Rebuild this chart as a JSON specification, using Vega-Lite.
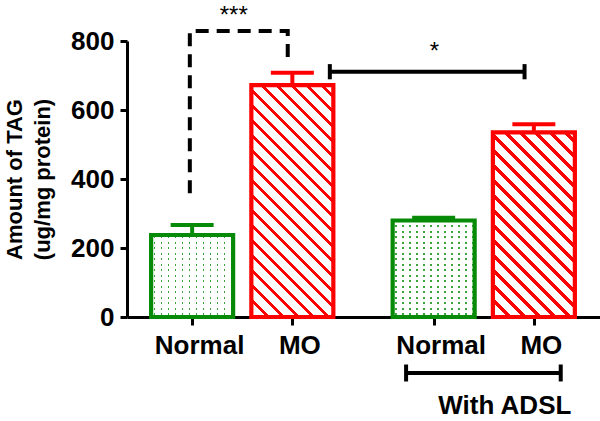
{
  "$schema": "https://vega.github.io/schema/vega-lite/v6.json",
  "width": 473,
  "height": 276,
  "autosize": {"type": "none"},
  "padding": {"left": 127, "top": 41, "right": 0, "bottom": 104},
  "background": "white",
  "config": {"view": {"stroke": null}, "font": "Liberation Sans"},
  "datasets": {
    "bars": [
      {"pos": 1, "cond": "Normal", "value": 237.7, "err": 266.7},
      {"pos": 2, "cond": "MO", "value": 672, "err": 708},
      {"pos": 3.41, "cond": "Normal", "value": 279.7, "err": 288},
      {"pos": 4.41, "cond": "MO", "value": 535, "err": 559}
    ],
    "dashed": [
      {"i": 0, "pos": 0.977, "value": 359},
      {"i": 1, "pos": 0.977, "value": 829},
      {"i": 2, "pos": 1.954, "value": 829},
      {"i": 3, "pos": 1.954, "value": 739}
    ],
    "segments": [
      {"pos": 2.374, "pos2": 4.317, "value": 711, "value2": 711},
      {"pos": 2.374, "pos2": 2.374, "value": 689, "value2": 733},
      {"pos": 4.317, "pos2": 4.317, "value": 689, "value2": 733},
      {"pos": 3.135, "pos2": 4.678, "value": -162, "value2": -162},
      {"pos": 3.135, "pos2": 3.135, "value": -137.7, "value2": -186.9},
      {"pos": 4.678, "pos2": 4.678, "value": -137.7, "value2": -186.9}
    ],
    "labels": [
      {"pos": 1.415, "value": 852, "label": "***", "kind": "star"},
      {"pos": 3.417, "value": 747, "label": "*", "kind": "star"},
      {"pos": 4.12, "value": -281, "label": "With ADSL", "kind": "group"}
    ]
  },
  "layer": [
    {
      "data": {"name": "bars"},
      "mark": {"type": "rule", "strokeWidth": 4},
      "encoding": {
        "x": {
          "field": "pos", "type": "quantitative",
          "scale": {"domain": [0.4, 5.02], "nice": false, "zero": false},
          "axis": {
            "values": [1, 2, 3.41, 4.41],
            "labelExpr": "(datum.value < 1.5 || (datum.value > 3 && datum.value < 4)) ? 'Normal' : 'MO'",
            "title": null, "grid": false,
            "domainColor": "black", "domainWidth": 3,
            "tickColor": "black", "tickWidth": 3, "tickSize": 8,
            "labelFont": "Liberation Sans", "labelFontSize": 26, "labelFontWeight": "bold",
            "labelColor": "black", "labelPadding": 7, "labelOffset": 7,
            "labelFlush": false, "labelOverlap": false
          }
        },
        "y": {
          "field": "value", "type": "quantitative",
          "scale": {"domain": [0, 800], "nice": false},
          "axis": {
            "values": [0, 200, 400, 600, 800],
            "title": ["Amount of TAG", "(ug/mg protein)"],
            "grid": false,
            "domainColor": "black", "domainWidth": 3,
            "tickColor": "black", "tickWidth": 3, "tickSize": 7,
            "labelFont": "Liberation Sans", "labelFontSize": 26, "labelFontWeight": "bold",
            "labelColor": "black", "labelPadding": 6, "labelFlush": false,
            "titleFont": "Liberation Sans", "titleFontSize": 22, "titleFontWeight": "bold",
            "titleColor": "black", "titleLineHeight": 28,
            "titleX": -106, "titleY": 138, "titleAngle": -90,
            "titleAlign": "center", "titleBaseline": "alphabetic"
          }
        },
        "y2": {"field": "err"},
        "stroke": {"field": "cond", "type": "nominal", "scale": {"domain": ["Normal", "MO"], "range": ["#078a07", "#ff0000"]}, "legend": null}
      }
    },
    {
      "data": {"name": "bars"},
      "mark": {"type": "tick", "orient": "horizontal", "size": 43, "thickness": 4, "opacity": 1},
      "encoding": {
        "x": {"field": "pos", "type": "quantitative", "scale": {"domain": [0.4, 5.02], "nice": false, "zero": false}},
        "y": {"field": "err", "type": "quantitative", "scale": {"domain": [0, 800], "nice": false}},
        "color": {"field": "cond", "type": "nominal", "scale": {"domain": ["Normal", "MO"], "range": ["#078a07", "#ff0000"]}, "legend": null}
      }
    },
    {
      "data": {"name": "bars"},
      "transform": [{"filter": "datum.cond == 'Normal'"}],
      "mark": {
        "type": "bar", "orient": "vertical", "width": 82, "strokeWidth": 0,
        "fill": {
          "gradient": "linear", "x1": 0, "y1": 0, "x2": 1.02439, "y2": 0,
          "stops": [
            {"offset": 0, "color": "#ffffff"},
            {"offset": 0.0333, "color": "#ffffff"}, {"offset": 0.0333, "color": "#3aa33a"}, {"offset": 0.0508, "color": "#3aa33a"}, {"offset": 0.0508, "color": "#ffffff"},
            {"offset": 0.1167, "color": "#ffffff"}, {"offset": 0.1167, "color": "#3aa33a"}, {"offset": 0.1342, "color": "#3aa33a"}, {"offset": 0.1342, "color": "#ffffff"},
            {"offset": 0.2, "color": "#ffffff"}, {"offset": 0.2, "color": "#3aa33a"}, {"offset": 0.2175, "color": "#3aa33a"}, {"offset": 0.2175, "color": "#ffffff"},
            {"offset": 0.2833, "color": "#ffffff"}, {"offset": 0.2833, "color": "#3aa33a"}, {"offset": 0.3008, "color": "#3aa33a"}, {"offset": 0.3008, "color": "#ffffff"},
            {"offset": 0.3667, "color": "#ffffff"}, {"offset": 0.3667, "color": "#3aa33a"}, {"offset": 0.3842, "color": "#3aa33a"}, {"offset": 0.3842, "color": "#ffffff"},
            {"offset": 0.45, "color": "#ffffff"}, {"offset": 0.45, "color": "#3aa33a"}, {"offset": 0.4675, "color": "#3aa33a"}, {"offset": 0.4675, "color": "#ffffff"},
            {"offset": 0.5333, "color": "#ffffff"}, {"offset": 0.5333, "color": "#3aa33a"}, {"offset": 0.5508, "color": "#3aa33a"}, {"offset": 0.5508, "color": "#ffffff"},
            {"offset": 0.6167, "color": "#ffffff"}, {"offset": 0.6167, "color": "#3aa33a"}, {"offset": 0.6342, "color": "#3aa33a"}, {"offset": 0.6342, "color": "#ffffff"},
            {"offset": 0.7, "color": "#ffffff"}, {"offset": 0.7, "color": "#3aa33a"}, {"offset": 0.7175, "color": "#3aa33a"}, {"offset": 0.7175, "color": "#ffffff"},
            {"offset": 0.7833, "color": "#ffffff"}, {"offset": 0.7833, "color": "#3aa33a"}, {"offset": 0.8008, "color": "#3aa33a"}, {"offset": 0.8008, "color": "#ffffff"},
            {"offset": 0.8667, "color": "#ffffff"}, {"offset": 0.8667, "color": "#3aa33a"}, {"offset": 0.8842, "color": "#3aa33a"}, {"offset": 0.8842, "color": "#ffffff"},
            {"offset": 0.95, "color": "#ffffff"}, {"offset": 0.95, "color": "#3aa33a"}, {"offset": 0.9675, "color": "#3aa33a"}, {"offset": 0.9675, "color": "#ffffff"},
            {"offset": 1, "color": "#ffffff"}
          ]
        }
      },
      "encoding": {
        "x": {"field": "pos", "type": "quantitative", "scale": {"domain": [0.4, 5.02], "nice": false, "zero": false}},
        "y": {"field": "value", "type": "quantitative", "stack": null, "scale": {"domain": [0, 800], "nice": false}}
      }
    },
    {
      "data": {"name": "bars"},
      "transform": [{"filter": "datum.pos == 1"}],
      "mark": {
        "type": "bar", "orient": "vertical", "width": 82, "strokeWidth": 0,
        "fill": {
          "gradient": "linear", "x1": 0, "y1": 1, "x2": 0, "y2": -0.0061,
          "stops": [
            {"offset": 0, "color": "#ffffff"},
            {"offset": 0.024, "color": "#ffffff"}, {"offset": 0.024, "color": "rgba(255,255,255,0)"}, {"offset": 0.0427, "color": "rgba(255,255,255,0)"}, {"offset": 0.0427, "color": "#ffffff"},
            {"offset": 0.0907, "color": "#ffffff"}, {"offset": 0.0907, "color": "rgba(255,255,255,0)"}, {"offset": 0.1093, "color": "rgba(255,255,255,0)"}, {"offset": 0.1093, "color": "#ffffff"},
            {"offset": 0.1573, "color": "#ffffff"}, {"offset": 0.1573, "color": "rgba(255,255,255,0)"}, {"offset": 0.176, "color": "rgba(255,255,255,0)"}, {"offset": 0.176, "color": "#ffffff"},
            {"offset": 0.224, "color": "#ffffff"}, {"offset": 0.224, "color": "rgba(255,255,255,0)"}, {"offset": 0.2427, "color": "rgba(255,255,255,0)"}, {"offset": 0.2427, "color": "#ffffff"},
            {"offset": 0.2907, "color": "#ffffff"}, {"offset": 0.2907, "color": "rgba(255,255,255,0)"}, {"offset": 0.3093, "color": "rgba(255,255,255,0)"}, {"offset": 0.3093, "color": "#ffffff"},
            {"offset": 0.3573, "color": "#ffffff"}, {"offset": 0.3573, "color": "rgba(255,255,255,0)"}, {"offset": 0.376, "color": "rgba(255,255,255,0)"}, {"offset": 0.376, "color": "#ffffff"},
            {"offset": 0.424, "color": "#ffffff"}, {"offset": 0.424, "color": "rgba(255,255,255,0)"}, {"offset": 0.4427, "color": "rgba(255,255,255,0)"}, {"offset": 0.4427, "color": "#ffffff"},
            {"offset": 0.4907, "color": "#ffffff"}, {"offset": 0.4907, "color": "rgba(255,255,255,0)"}, {"offset": 0.5093, "color": "rgba(255,255,255,0)"}, {"offset": 0.5093, "color": "#ffffff"},
            {"offset": 0.5573, "color": "#ffffff"}, {"offset": 0.5573, "color": "rgba(255,255,255,0)"}, {"offset": 0.576, "color": "rgba(255,255,255,0)"}, {"offset": 0.576, "color": "#ffffff"},
            {"offset": 0.624, "color": "#ffffff"}, {"offset": 0.624, "color": "rgba(255,255,255,0)"}, {"offset": 0.6427, "color": "rgba(255,255,255,0)"}, {"offset": 0.6427, "color": "#ffffff"},
            {"offset": 0.6907, "color": "#ffffff"}, {"offset": 0.6907, "color": "rgba(255,255,255,0)"}, {"offset": 0.7093, "color": "rgba(255,255,255,0)"}, {"offset": 0.7093, "color": "#ffffff"},
            {"offset": 0.7573, "color": "#ffffff"}, {"offset": 0.7573, "color": "rgba(255,255,255,0)"}, {"offset": 0.776, "color": "rgba(255,255,255,0)"}, {"offset": 0.776, "color": "#ffffff"},
            {"offset": 0.824, "color": "#ffffff"}, {"offset": 0.824, "color": "rgba(255,255,255,0)"}, {"offset": 0.8427, "color": "rgba(255,255,255,0)"}, {"offset": 0.8427, "color": "#ffffff"},
            {"offset": 0.8907, "color": "#ffffff"}, {"offset": 0.8907, "color": "rgba(255,255,255,0)"}, {"offset": 0.9093, "color": "rgba(255,255,255,0)"}, {"offset": 0.9093, "color": "#ffffff"},
            {"offset": 0.9573, "color": "#ffffff"}, {"offset": 0.9573, "color": "rgba(255,255,255,0)"}, {"offset": 0.976, "color": "rgba(255,255,255,0)"}, {"offset": 0.976, "color": "#ffffff"},
            {"offset": 1, "color": "#ffffff"}
          ]
        }
      },
      "encoding": {
        "x": {"field": "pos", "type": "quantitative", "scale": {"domain": [0.4, 5.02], "nice": false, "zero": false}},
        "y": {"field": "value", "type": "quantitative", "stack": null, "scale": {"domain": [0, 800], "nice": false}}
      }
    },
    {
      "data": {"name": "bars"},
      "transform": [{"filter": "datum.pos == 3.41"}],
      "mark": {
        "type": "bar", "orient": "vertical", "width": 82, "strokeWidth": 0,
        "fill": {
          "gradient": "linear", "x1": 0, "y1": 1, "x2": 0, "y2": -0.0259,
          "stops": [
            {"offset": 0, "color": "#ffffff"},
            {"offset": 0.02, "color": "#ffffff"}, {"offset": 0.02, "color": "rgba(255,255,255,0)"}, {"offset": 0.0356, "color": "rgba(255,255,255,0)"}, {"offset": 0.0356, "color": "#ffffff"},
            {"offset": 0.0756, "color": "#ffffff"}, {"offset": 0.0756, "color": "rgba(255,255,255,0)"}, {"offset": 0.0911, "color": "rgba(255,255,255,0)"}, {"offset": 0.0911, "color": "#ffffff"},
            {"offset": 0.1311, "color": "#ffffff"}, {"offset": 0.1311, "color": "rgba(255,255,255,0)"}, {"offset": 0.1467, "color": "rgba(255,255,255,0)"}, {"offset": 0.1467, "color": "#ffffff"},
            {"offset": 0.1867, "color": "#ffffff"}, {"offset": 0.1867, "color": "rgba(255,255,255,0)"}, {"offset": 0.2022, "color": "rgba(255,255,255,0)"}, {"offset": 0.2022, "color": "#ffffff"},
            {"offset": 0.2422, "color": "#ffffff"}, {"offset": 0.2422, "color": "rgba(255,255,255,0)"}, {"offset": 0.2578, "color": "rgba(255,255,255,0)"}, {"offset": 0.2578, "color": "#ffffff"},
            {"offset": 0.2978, "color": "#ffffff"}, {"offset": 0.2978, "color": "rgba(255,255,255,0)"}, {"offset": 0.3133, "color": "rgba(255,255,255,0)"}, {"offset": 0.3133, "color": "#ffffff"},
            {"offset": 0.3533, "color": "#ffffff"}, {"offset": 0.3533, "color": "rgba(255,255,255,0)"}, {"offset": 0.3689, "color": "rgba(255,255,255,0)"}, {"offset": 0.3689, "color": "#ffffff"},
            {"offset": 0.4089, "color": "#ffffff"}, {"offset": 0.4089, "color": "rgba(255,255,255,0)"}, {"offset": 0.4244, "color": "rgba(255,255,255,0)"}, {"offset": 0.4244, "color": "#ffffff"},
            {"offset": 0.4644, "color": "#ffffff"}, {"offset": 0.4644, "color": "rgba(255,255,255,0)"}, {"offset": 0.48, "color": "rgba(255,255,255,0)"}, {"offset": 0.48, "color": "#ffffff"},
            {"offset": 0.52, "color": "#ffffff"}, {"offset": 0.52, "color": "rgba(255,255,255,0)"}, {"offset": 0.5356, "color": "rgba(255,255,255,0)"}, {"offset": 0.5356, "color": "#ffffff"},
            {"offset": 0.5756, "color": "#ffffff"}, {"offset": 0.5756, "color": "rgba(255,255,255,0)"}, {"offset": 0.5911, "color": "rgba(255,255,255,0)"}, {"offset": 0.5911, "color": "#ffffff"},
            {"offset": 0.6311, "color": "#ffffff"}, {"offset": 0.6311, "color": "rgba(255,255,255,0)"}, {"offset": 0.6467, "color": "rgba(255,255,255,0)"}, {"offset": 0.6467, "color": "#ffffff"},
            {"offset": 0.6867, "color": "#ffffff"}, {"offset": 0.6867, "color": "rgba(255,255,255,0)"}, {"offset": 0.7022, "color": "rgba(255,255,255,0)"}, {"offset": 0.7022, "color": "#ffffff"},
            {"offset": 0.7422, "color": "#ffffff"}, {"offset": 0.7422, "color": "rgba(255,255,255,0)"}, {"offset": 0.7578, "color": "rgba(255,255,255,0)"}, {"offset": 0.7578, "color": "#ffffff"},
            {"offset": 0.7978, "color": "#ffffff"}, {"offset": 0.7978, "color": "rgba(255,255,255,0)"}, {"offset": 0.8133, "color": "rgba(255,255,255,0)"}, {"offset": 0.8133, "color": "#ffffff"},
            {"offset": 0.8533, "color": "#ffffff"}, {"offset": 0.8533, "color": "rgba(255,255,255,0)"}, {"offset": 0.8689, "color": "rgba(255,255,255,0)"}, {"offset": 0.8689, "color": "#ffffff"},
            {"offset": 0.9089, "color": "#ffffff"}, {"offset": 0.9089, "color": "rgba(255,255,255,0)"}, {"offset": 0.9244, "color": "rgba(255,255,255,0)"}, {"offset": 0.9244, "color": "#ffffff"},
            {"offset": 0.9644, "color": "#ffffff"}, {"offset": 0.9644, "color": "rgba(255,255,255,0)"}, {"offset": 0.98, "color": "rgba(255,255,255,0)"}, {"offset": 0.98, "color": "#ffffff"},
            {"offset": 1, "color": "#ffffff"}
          ]
        }
      },
      "encoding": {
        "x": {"field": "pos", "type": "quantitative", "scale": {"domain": [0.4, 5.02], "nice": false, "zero": false}},
        "y": {"field": "value", "type": "quantitative", "stack": null, "scale": {"domain": [0, 800], "nice": false}}
      }
    },
    {
      "data": {"name": "bars"},
      "transform": [{"filter": "datum.pos == 2"}],
      "mark": {
        "type": "bar", "orient": "vertical", "width": 82, "strokeWidth": 0,
        "fill": {
          "gradient": "linear", "x1": 0, "y1": 1, "x2": 0.42726, "y2": -0.20779,
          "stops": [
            {"offset": 0, "color": "#ff0000"}, {"offset": 0.014286, "color": "#ff0000"}, {"offset": 0.014286, "color": "#ffffff"}, {"offset": 0.047619, "color": "#ffffff"},
            {"offset": 0.047619, "color": "#ff0000"}, {"offset": 0.061905, "color": "#ff0000"}, {"offset": 0.061905, "color": "#ffffff"}, {"offset": 0.095238, "color": "#ffffff"},
            {"offset": 0.095238, "color": "#ff0000"}, {"offset": 0.109524, "color": "#ff0000"}, {"offset": 0.109524, "color": "#ffffff"}, {"offset": 0.142857, "color": "#ffffff"},
            {"offset": 0.142857, "color": "#ff0000"}, {"offset": 0.157143, "color": "#ff0000"}, {"offset": 0.157143, "color": "#ffffff"}, {"offset": 0.190476, "color": "#ffffff"},
            {"offset": 0.190476, "color": "#ff0000"}, {"offset": 0.204762, "color": "#ff0000"}, {"offset": 0.204762, "color": "#ffffff"}, {"offset": 0.238095, "color": "#ffffff"},
            {"offset": 0.238095, "color": "#ff0000"}, {"offset": 0.252381, "color": "#ff0000"}, {"offset": 0.252381, "color": "#ffffff"}, {"offset": 0.285714, "color": "#ffffff"},
            {"offset": 0.285714, "color": "#ff0000"}, {"offset": 0.3, "color": "#ff0000"}, {"offset": 0.3, "color": "#ffffff"}, {"offset": 0.333333, "color": "#ffffff"},
            {"offset": 0.333333, "color": "#ff0000"}, {"offset": 0.347619, "color": "#ff0000"}, {"offset": 0.347619, "color": "#ffffff"}, {"offset": 0.380952, "color": "#ffffff"},
            {"offset": 0.380952, "color": "#ff0000"}, {"offset": 0.395238, "color": "#ff0000"}, {"offset": 0.395238, "color": "#ffffff"}, {"offset": 0.428571, "color": "#ffffff"},
            {"offset": 0.428571, "color": "#ff0000"}, {"offset": 0.442857, "color": "#ff0000"}, {"offset": 0.442857, "color": "#ffffff"}, {"offset": 0.47619, "color": "#ffffff"},
            {"offset": 0.47619, "color": "#ff0000"}, {"offset": 0.490476, "color": "#ff0000"}, {"offset": 0.490476, "color": "#ffffff"}, {"offset": 0.52381, "color": "#ffffff"},
            {"offset": 0.52381, "color": "#ff0000"}, {"offset": 0.538095, "color": "#ff0000"}, {"offset": 0.538095, "color": "#ffffff"}, {"offset": 0.571429, "color": "#ffffff"},
            {"offset": 0.571429, "color": "#ff0000"}, {"offset": 0.585714, "color": "#ff0000"}, {"offset": 0.585714, "color": "#ffffff"}, {"offset": 0.619048, "color": "#ffffff"},
            {"offset": 0.619048, "color": "#ff0000"}, {"offset": 0.633333, "color": "#ff0000"}, {"offset": 0.633333, "color": "#ffffff"}, {"offset": 0.666667, "color": "#ffffff"},
            {"offset": 0.666667, "color": "#ff0000"}, {"offset": 0.680952, "color": "#ff0000"}, {"offset": 0.680952, "color": "#ffffff"}, {"offset": 0.714286, "color": "#ffffff"},
            {"offset": 0.714286, "color": "#ff0000"}, {"offset": 0.728571, "color": "#ff0000"}, {"offset": 0.728571, "color": "#ffffff"}, {"offset": 0.761905, "color": "#ffffff"},
            {"offset": 0.761905, "color": "#ff0000"}, {"offset": 0.77619, "color": "#ff0000"}, {"offset": 0.77619, "color": "#ffffff"}, {"offset": 0.809524, "color": "#ffffff"},
            {"offset": 0.809524, "color": "#ff0000"}, {"offset": 0.82381, "color": "#ff0000"}, {"offset": 0.82381, "color": "#ffffff"}, {"offset": 0.857143, "color": "#ffffff"},
            {"offset": 0.857143, "color": "#ff0000"}, {"offset": 0.871429, "color": "#ff0000"}, {"offset": 0.871429, "color": "#ffffff"}, {"offset": 0.904762, "color": "#ffffff"},
            {"offset": 0.904762, "color": "#ff0000"}, {"offset": 0.919048, "color": "#ff0000"}, {"offset": 0.919048, "color": "#ffffff"}, {"offset": 0.952381, "color": "#ffffff"},
            {"offset": 0.952381, "color": "#ff0000"}, {"offset": 0.966667, "color": "#ff0000"}, {"offset": 0.966667, "color": "#ffffff"}, {"offset": 1, "color": "#ffffff"}
          ]
        }
      },
      "encoding": {
        "x": {"field": "pos", "type": "quantitative", "scale": {"domain": [0.4, 5.02], "nice": false, "zero": false}},
        "y": {"field": "value", "type": "quantitative", "stack": null, "scale": {"domain": [0, 800], "nice": false}}
      }
    },
    {
      "data": {"name": "bars"},
      "transform": [{"filter": "datum.pos == 4.41"}],
      "mark": {
        "type": "bar", "orient": "vertical", "width": 82, "strokeWidth": 0,
        "fill": {
          "gradient": "linear", "x1": 0, "y1": 1, "x2": 0.54263, "y2": -0.22159,
          "stops": [
            {"offset": 0, "color": "#ff0000"}, {"offset": 0.016667, "color": "#ff0000"}, {"offset": 0.016667, "color": "#ffffff"}, {"offset": 0.055556, "color": "#ffffff"},
            {"offset": 0.055556, "color": "#ff0000"}, {"offset": 0.072222, "color": "#ff0000"}, {"offset": 0.072222, "color": "#ffffff"}, {"offset": 0.111111, "color": "#ffffff"},
            {"offset": 0.111111, "color": "#ff0000"}, {"offset": 0.127778, "color": "#ff0000"}, {"offset": 0.127778, "color": "#ffffff"}, {"offset": 0.166667, "color": "#ffffff"},
            {"offset": 0.166667, "color": "#ff0000"}, {"offset": 0.183333, "color": "#ff0000"}, {"offset": 0.183333, "color": "#ffffff"}, {"offset": 0.222222, "color": "#ffffff"},
            {"offset": 0.222222, "color": "#ff0000"}, {"offset": 0.238889, "color": "#ff0000"}, {"offset": 0.238889, "color": "#ffffff"}, {"offset": 0.277778, "color": "#ffffff"},
            {"offset": 0.277778, "color": "#ff0000"}, {"offset": 0.294444, "color": "#ff0000"}, {"offset": 0.294444, "color": "#ffffff"}, {"offset": 0.333333, "color": "#ffffff"},
            {"offset": 0.333333, "color": "#ff0000"}, {"offset": 0.35, "color": "#ff0000"}, {"offset": 0.35, "color": "#ffffff"}, {"offset": 0.388889, "color": "#ffffff"},
            {"offset": 0.388889, "color": "#ff0000"}, {"offset": 0.405556, "color": "#ff0000"}, {"offset": 0.405556, "color": "#ffffff"}, {"offset": 0.444444, "color": "#ffffff"},
            {"offset": 0.444444, "color": "#ff0000"}, {"offset": 0.461111, "color": "#ff0000"}, {"offset": 0.461111, "color": "#ffffff"}, {"offset": 0.5, "color": "#ffffff"},
            {"offset": 0.5, "color": "#ff0000"}, {"offset": 0.516667, "color": "#ff0000"}, {"offset": 0.516667, "color": "#ffffff"}, {"offset": 0.555556, "color": "#ffffff"},
            {"offset": 0.555556, "color": "#ff0000"}, {"offset": 0.572222, "color": "#ff0000"}, {"offset": 0.572222, "color": "#ffffff"}, {"offset": 0.611111, "color": "#ffffff"},
            {"offset": 0.611111, "color": "#ff0000"}, {"offset": 0.627778, "color": "#ff0000"}, {"offset": 0.627778, "color": "#ffffff"}, {"offset": 0.666667, "color": "#ffffff"},
            {"offset": 0.666667, "color": "#ff0000"}, {"offset": 0.683333, "color": "#ff0000"}, {"offset": 0.683333, "color": "#ffffff"}, {"offset": 0.722222, "color": "#ffffff"},
            {"offset": 0.722222, "color": "#ff0000"}, {"offset": 0.738889, "color": "#ff0000"}, {"offset": 0.738889, "color": "#ffffff"}, {"offset": 0.777778, "color": "#ffffff"},
            {"offset": 0.777778, "color": "#ff0000"}, {"offset": 0.794444, "color": "#ff0000"}, {"offset": 0.794444, "color": "#ffffff"}, {"offset": 0.833333, "color": "#ffffff"},
            {"offset": 0.833333, "color": "#ff0000"}, {"offset": 0.85, "color": "#ff0000"}, {"offset": 0.85, "color": "#ffffff"}, {"offset": 0.888889, "color": "#ffffff"},
            {"offset": 0.888889, "color": "#ff0000"}, {"offset": 0.905556, "color": "#ff0000"}, {"offset": 0.905556, "color": "#ffffff"}, {"offset": 0.944444, "color": "#ffffff"},
            {"offset": 0.944444, "color": "#ff0000"}, {"offset": 0.961111, "color": "#ff0000"}, {"offset": 0.961111, "color": "#ffffff"}, {"offset": 1, "color": "#ffffff"}
          ]
        }
      },
      "encoding": {
        "x": {"field": "pos", "type": "quantitative", "scale": {"domain": [0.4, 5.02], "nice": false, "zero": false}},
        "y": {"field": "value", "type": "quantitative", "stack": null, "scale": {"domain": [0, 800], "nice": false}}
      }
    },
    {
      "data": {"name": "bars"},
      "mark": {"type": "bar", "orient": "vertical", "width": 82, "fill": "transparent", "strokeWidth": 4.2, "strokeJoin": "miter"},
      "encoding": {
        "x": {"field": "pos", "type": "quantitative", "scale": {"domain": [0.4, 5.02], "nice": false, "zero": false}},
        "y": {"field": "value", "type": "quantitative", "stack": null, "scale": {"domain": [0, 800], "nice": false}},
        "stroke": {"field": "cond", "type": "nominal", "scale": {"domain": ["Normal", "MO"], "range": ["#078a07", "#ff0000"]}, "legend": null}
      }
    },
    {
      "data": {"name": "dashed"},
      "mark": {"type": "line", "color": "black", "strokeWidth": 4, "strokeDash": [13, 8], "strokeCap": "butt"},
      "encoding": {
        "x": {"field": "pos", "type": "quantitative", "scale": {"domain": [0.4, 5.02], "nice": false, "zero": false}},
        "y": {"field": "value", "type": "quantitative", "scale": {"domain": [0, 800], "nice": false}},
        "order": {"field": "i", "type": "quantitative"}
      }
    },
    {
      "data": {"name": "segments"},
      "mark": {"type": "rule", "color": "black", "strokeWidth": 4},
      "encoding": {
        "x": {"field": "pos", "type": "quantitative", "scale": {"domain": [0.4, 5.02], "nice": false, "zero": false}},
        "x2": {"field": "pos2"},
        "y": {"field": "value", "type": "quantitative", "scale": {"domain": [0, 800], "nice": false}},
        "y2": {"field": "value2"}
      }
    },
    {
      "data": {"name": "labels"},
      "transform": [{"filter": "datum.kind == 'star'"}],
      "mark": {"type": "text", "font": "Liberation Sans", "fontSize": 24, "color": "black", "align": "center", "baseline": "alphabetic"},
      "encoding": {
        "x": {"field": "pos", "type": "quantitative", "scale": {"domain": [0.4, 5.02], "nice": false, "zero": false}},
        "y": {"field": "value", "type": "quantitative", "scale": {"domain": [0, 800], "nice": false}},
        "text": {"field": "label"}
      }
    },
    {
      "data": {"name": "labels"},
      "transform": [{"filter": "datum.kind == 'group'"}],
      "mark": {"type": "text", "font": "Liberation Sans", "fontSize": 26, "fontWeight": "bold", "color": "black", "align": "center", "baseline": "alphabetic"},
      "encoding": {
        "x": {"field": "pos", "type": "quantitative", "scale": {"domain": [0.4, 5.02], "nice": false, "zero": false}},
        "y": {"field": "value", "type": "quantitative", "scale": {"domain": [0, 800], "nice": false}},
        "text": {"field": "label"}
      }
    }
  ]
}
